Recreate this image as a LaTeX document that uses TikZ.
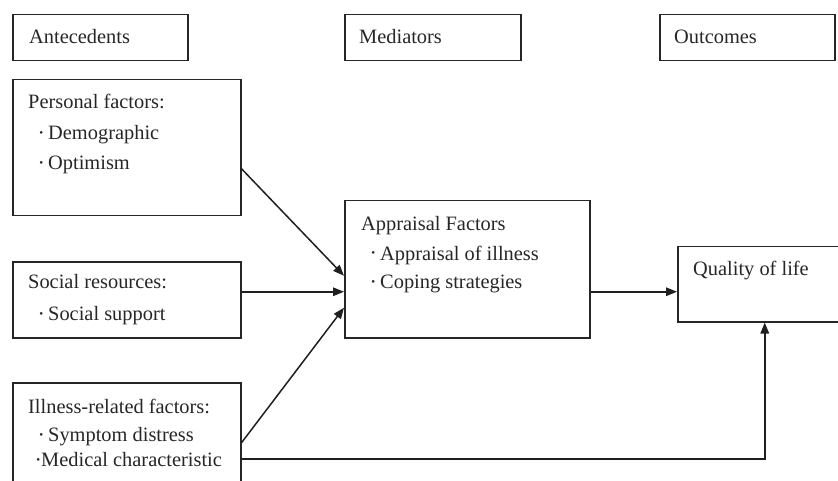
\documentclass[tikz,border=0pt]{standalone}
\usepackage{fontspec}
\setmainfont{Liberation Serif}
\usetikzlibrary{arrows.meta}
\newcommand{\bul}[1]{\llap{\raisebox{3pt}{\fontsize{11}{11}\selectfont •}\hspace{#1}}}
\begin{document}
\begin{tikzpicture}[x=1pt,y=-1pt,
  box/.style={draw=black!85,line width=1.5pt,rectangle,anchor=north west,inner sep=0pt},
  txt/.style={anchor=base west,inner sep=0pt,font=\fontsize{20.4}{24}\selectfont,text=black!85},
  conn/.style={draw=black!88,line width=1.5pt,-{Triangle[length=11pt,width=8.5pt]}}]
\useasboundingbox (0,0) rectangle (838,481);
\clip (0,0) rectangle (838,481);
% boxes
\node[box,minimum width=175pt,minimum height=46pt] (ant) at (12,14) {};
\node[box,minimum width=176pt,minimum height=46pt] (med) at (344,14) {};
\node[box,minimum width=175pt,minimum height=46pt] (out) at (659,14) {};
\node[box,minimum width=228pt,minimum height=136pt] (personal) at (12,79) {};
\node[box,minimum width=228pt,minimum height=76pt] (social) at (12,261) {};
\node[box,minimum width=228pt,minimum height=130pt] (illness) at (12,382) {};
\node[box,minimum width=245pt,minimum height=137pt] (appraisal) at (344,200) {};
\node[box,minimum width=174pt,minimum height=75pt] (qol) at (677,246) {};
% texts
\node[txt] (tant) at (29,44) {Antecedents};
\node[txt] (tmed) at (359,44) {Mediators};
\node[txt] (tout) at (674,44) {Outcomes};
\node[txt] (tpers) at (28,109) {Personal factors:};
\node[txt] (tdemo) at (48,140) {\bul{5pt}Demographic};
\node[txt] (topt) at (48,170) {\bul{5pt}Optimism};
\node[txt] (tsoc) at (28,288) {Social resources:};
\node[txt] (tsup) at (48,320) {\bul{5pt}Social support};
\node[txt] (till) at (28,413) {Illness-related factors:};
\node[txt] (tsym) at (48,441) {\bul{5pt}Symptom distress};
\node[txt] (tmedc) at (41,466) {\bul{1pt}Medical characteristic};
\node[txt] (tapp) at (361,231) {Appraisal Factors};
\node[txt] (tappi) at (380,260) {\bul{5pt}Appraisal of illness};
\node[txt] (tcop) at (380,288) {\bul{5pt}Coping strategies};
\node[txt] (tqol) at (693,276) {Quality of life};
% connectors
\draw[conn] ([yshift=-21pt]personal.east) -- ([yshift=-6.5pt]appraisal.west);
\draw[conn] ([yshift=8pt]social.east) -- ([yshift=-22.5pt]appraisal.west);
\draw[conn] ([yshift=5pt]illness.east) -- ([yshift=-38.5pt]appraisal.west);
\draw[conn] ([yshift=-22.5pt]appraisal.east) -- ([yshift=-22.5pt]appraisal.east -| qol.west);
\draw[conn] ([yshift=-11pt]illness.east) -| (qol.south);
\end{tikzpicture}
\end{document}
